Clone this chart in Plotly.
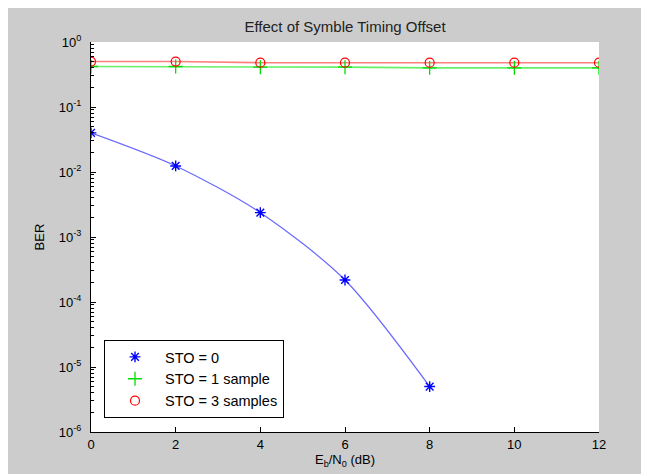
import plotly.graph_objects as go

ebn0_db = [0, 2, 4, 6, 8, 10, 12]
ber_sto0_x = [0, 2, 4, 6, 8]
ber_sto0 = [0.040, 0.0124, 0.00237, 2.18e-4, 5.0e-6]
ber_sto1 = [0.42, 0.42, 0.41, 0.41, 0.40, 0.40, 0.40]
ber_sto3 = [0.50, 0.50, 0.48, 0.48, 0.48, 0.48, 0.48]
series_names = ["STO = 0", "STO = 1 sample", "STO = 3 samples"]
y_tick_vals = [1e-6, 1e-5, 1e-4, 1e-3, 1e-2, 1e-1, 1e0]
y_tick_text = ["10<sup>-6</sup>", "10<sup>-5</sup>", "10<sup>-4</sup>", "10<sup>-3</sup>",
               "10<sup>-2</sup>", "10<sup>-1</sup>", "10<sup>0</sup>"]
x_tick_vals = [0, 2, 4, 6, 8, 10, 12]

# page body adds an 8px offset; figure covers the gray area
W, H = 641, 466
L, R, T, B = 83, 50, 34, 42
PW, PH = W - L - R, H - T - B

fig = go.Figure()

# lines (not in legend)
fig.add_trace(go.Scatter(x=ber_sto0_x, y=ber_sto0, mode="lines",
                         line=dict(color="rgba(40,40,255,0.7)", width=1.2, shape="spline", smoothing=0.8),
                         showlegend=False, hoverinfo="skip"))
fig.add_trace(go.Scatter(x=ebn0_db, y=ber_sto1, mode="lines", line=dict(color="rgba(0,230,0,0.6)", width=1.6),
                         showlegend=False, hoverinfo="skip"))
fig.add_trace(go.Scatter(x=ebn0_db, y=ber_sto3, mode="lines", line=dict(color="rgba(255,0,0,0.5)", width=1.6),
                         showlegend=False, hoverinfo="skip"))

# markers (in legend)
fig.add_trace(go.Scatter(x=ber_sto0_x, y=ber_sto0, mode="markers", name=series_names[0],
                         marker=dict(symbol="asterisk-open", size=9, color="#0000ff", line=dict(color="#0000ff", width=1.4))))
fig.add_trace(go.Scatter(x=ebn0_db, y=ber_sto1, mode="markers", name=series_names[1],
                         marker=dict(symbol="cross-thin-open", size=10, color="#00dd00", line=dict(color="#00dd00", width=1.3))))
fig.add_trace(go.Scatter(x=ebn0_db, y=ber_sto3, mode="markers", name=series_names[2],
                         marker=dict(symbol="circle-open", size=9, color="#ff0000", line=dict(color="#ff0000", width=1.2))))

font_family = "Liberation Sans, Arial, sans-serif"

fig.update_layout(
    width=W, height=H,
    margin=dict(l=L, r=R, t=T, b=B, pad=0),
    paper_bgcolor="#cccccc",
    plot_bgcolor="#ffffff",
    font=dict(family=font_family, size=13, color="#000000"),
    title=dict(text="Effect of Symble Timing Offset", x=(L + PW / 2) / W, xanchor="center",
               y=1 - 19 / H, yanchor="middle", font=dict(size=15, color="#222222")),
    xaxis=dict(range=[0, 12], tickvals=x_tick_vals, ticks="inside", ticklen=5, tickcolor="#000000",
               showline=True, linecolor="#000000", linewidth=1, showgrid=False, zeroline=False,
               tickfont=dict(size=13), ticklabelstandoff=0, automargin=False,
               title=dict(text="E<sub>b</sub>/N<sub>0</sub> (dB)", standoff=4, font=dict(size=13))),
    yaxis=dict(type="log", range=[-6, 0], tickvals=y_tick_vals, ticktext=y_tick_text, ticks="inside",
               ticklen=5, tickcolor="#000000", showline=True, linecolor="#000000", linewidth=1,
               showgrid=False, zeroline=False, tickfont=dict(size=13), ticklabelstandoff=6, automargin=False,
               minor=dict(ticks="inside", ticklen=3, tickcolor="#000000", dtick="D1", showgrid=False),
               title=dict(text="BER", standoff=11, font=dict(size=13))),
    legend=dict(x=(96 - L) / PW, y=(H - B - 410) / PH, xanchor="left", yanchor="bottom",
                bgcolor="#ffffff", bordercolor="#000000", borderwidth=1, itemwidth=50,
                font=dict(size=14.5), tracegroupgap=0),
)

fig.write_html("out.html")
